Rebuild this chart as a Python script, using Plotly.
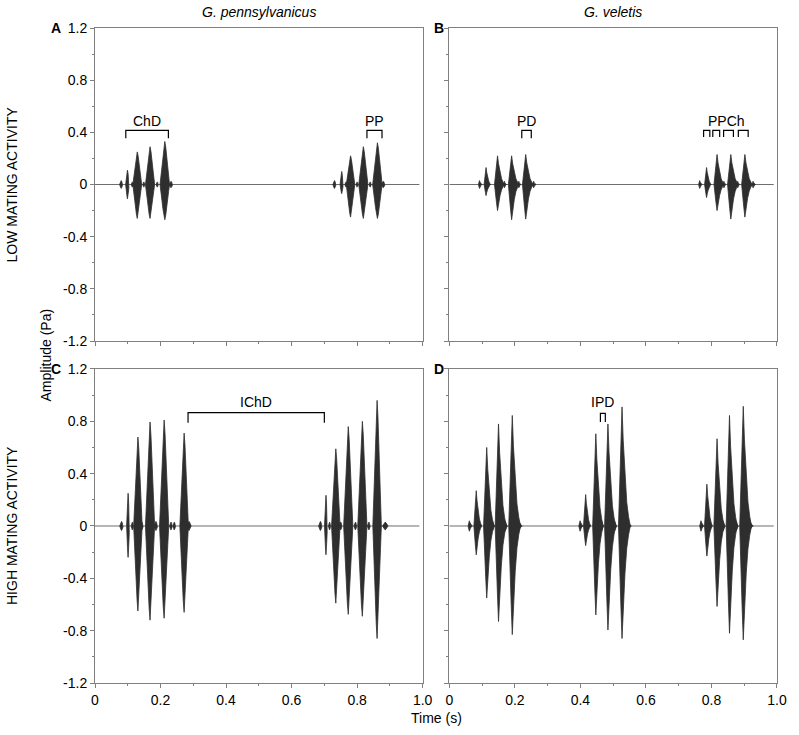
import plotly.graph_objects as go

# ---------------- data ----------------
# Panel A: G. pennsylvanicus, low mating activity
A_time = [0.080, 0.099, 0.114, 0.129, 0.149, 0.168, 0.190, 0.213, 0.232,
          0.731, 0.753, 0.766, 0.780, 0.800, 0.819, 0.840, 0.862, 0.880]
A_pos = [0.03, 0.11, 0.02, 0.25, 0.02, 0.29, 0.02, 0.33, 0.025,
         0.03, 0.10, 0.02, 0.22, 0.02, 0.29, 0.02, 0.32, 0.025]
A_neg = [-0.03, -0.11, -0.02, -0.26, -0.02, -0.26, -0.02, -0.27, -0.025,
         -0.03, -0.07, -0.02, -0.25, -0.02, -0.26, -0.02, -0.26, -0.025]
A_dur = [0.010, 0.011, 0.007, 0.027, 0.007, 0.028, 0.007, 0.029, 0.011,
         0.010, 0.010, 0.007, 0.026, 0.007, 0.028, 0.007, 0.029, 0.011]

# Panel B: G. veletis, low mating activity
B_time = [0.092, 0.112, 0.147, 0.168, 0.190, 0.212, 0.233, 0.257,
          0.764, 0.785, 0.817, 0.838, 0.859, 0.880, 0.902, 0.927]
B_pos = [0.03, 0.13, 0.22, 0.025, 0.22, 0.025, 0.23, 0.025,
         0.03, 0.13, 0.23, 0.025, 0.23, 0.025, 0.23, 0.025]
B_neg = [-0.03, -0.085, -0.20, -0.025, -0.27, -0.025, -0.265, -0.025,
         -0.03, -0.10, -0.20, -0.025, -0.265, -0.025, -0.25, -0.025]
B_dur = [0.011, 0.020, 0.031, 0.009, 0.033, 0.009, 0.033, 0.011,
         0.011, 0.020, 0.031, 0.009, 0.033, 0.009, 0.033, 0.011]

# Panel C: G. pennsylvanicus, high mating activity
C_time = [0.081, 0.101, 0.114, 0.131, 0.143, 0.168, 0.186, 0.211, 0.232, 0.242,
          0.272, 0.287,
          0.688, 0.705, 0.716, 0.735, 0.750, 0.773, 0.795, 0.816, 0.836, 0.861,
          0.886]
C_pos = [0.035, 0.25, 0.03, 0.68, 0.03, 0.795, 0.035, 0.81, 0.03, 0.03,
         0.71, 0.035,
         0.035, 0.235, 0.03, 0.59, 0.03, 0.76, 0.03, 0.80, 0.03, 0.96,
         0.03]
C_neg = [-0.035, -0.24, -0.03, -0.65, -0.03, -0.72, -0.035, -0.705, -0.03,
         -0.03, -0.66, -0.035,
         -0.035, -0.22, -0.03, -0.59, -0.03, -0.675, -0.03, -0.69, -0.03,
         -0.86, -0.03]
C_dur = [0.011, 0.009, 0.007, 0.026, 0.009, 0.028, 0.011, 0.028, 0.009,
         0.009, 0.026, 0.013,
         0.011, 0.009, 0.007, 0.026, 0.009, 0.028, 0.009, 0.028, 0.009, 0.026,
         0.017]

# Panel D: G. veletis, high mating activity
D_time = [0.061, 0.082, 0.114, 0.132, 0.150, 0.171, 0.192, 0.212,
          0.399, 0.416, 0.447, 0.465, 0.484, 0.505, 0.527, 0.545,
          0.768, 0.786, 0.817, 0.836, 0.855, 0.876, 0.897, 0.917]
D_pos = [0.04, 0.27, 0.60, 0.035, 0.78, 0.035, 0.845, 0.04,
         0.04, 0.24, 0.705, 0.035, 0.78, 0.035, 0.91, 0.04,
         0.04, 0.32, 0.667, 0.035, 0.845, 0.035, 0.915, 0.04]
D_neg = [-0.04, -0.22, -0.55, -0.035, -0.73, -0.035, -0.83, -0.04,
         -0.04, -0.15, -0.68, -0.035, -0.795, -0.035, -0.86, -0.04,
         -0.04, -0.23, -0.615, -0.035, -0.82, -0.035, -0.87, -0.04]
D_dur = [0.013, 0.024, 0.032, 0.011, 0.034, 0.011, 0.036, 0.015,
         0.013, 0.022, 0.032, 0.011, 0.034, 0.011, 0.036, 0.015,
         0.013, 0.024, 0.032, 0.011, 0.034, 0.011, 0.036, 0.015]

# brackets: (start, end, top, foot) and labels
A_brk_start = [0.094, 0.830]
A_brk_end = [0.224, 0.876]
A_brk_top = [0.415, 0.415]
A_brk_foot = [0.355, 0.355]
A_lbl = ["ChD", "PP"]
A_lbl_x = [0.159, 0.853]
A_lbl_y = [0.49, 0.49]

B_brk_start = [0.221, 0.776, 0.804, 0.837, 0.882]
B_brk_end = [0.250, 0.795, 0.825, 0.867, 0.912]
B_brk_top = [0.415, 0.415, 0.415, 0.415, 0.415]
B_brk_foot = [0.355, 0.365, 0.365, 0.365, 0.365]
B_lbl = ["PD", "PPCh"]
B_lbl_x = [0.236, 0.847]
B_lbl_y = [0.49, 0.49]

C_brk_start = [0.284]
C_brk_end = [0.700]
C_brk_top = [0.867]
C_brk_foot = [0.79]
C_lbl = ["IChD"]
C_lbl_x = [0.49]
C_lbl_y = [0.95]

D_brk_start = [0.461]
D_brk_end = [0.476]
D_brk_top = [0.86]
D_brk_foot = [0.795]
D_lbl = ["IPD"]
D_lbl_x = [0.468]
D_lbl_y = [0.95]

y_ticks = [-1.2, -0.8, -0.4, 0, 0.4, 0.8, 1.2]
y_ticktext = ["-1.2", "-0.8", "-0.4", "0", "0.4", "0.8", "1.2"]
y_minor = [-1.0, -0.6, -0.2, 0.2, 0.6, 1.0]
x_ticks = [0, 0.2, 0.4, 0.6, 0.8, 1.0]
x_ticktext = ["0", "0.2", "0.4", "0.6", "0.8", "1.0"]
x_minor = [0.1, 0.3, 0.5, 0.7, 0.9]

col_titles = ["G. pennsylvanicus", "G. veletis"]
row_titles = ["LOW MATING ACTIVITY", "HIGH MATING ACTIVITY"]
panel_letters = ["A", "B", "C", "D"]

# ---------------- drawing ----------------
FONT = "Arial, Liberation Sans, sans-serif"
WAVE = "#2e2e2e"
AXC = "#808080"

# envelope styles (symmetric spindle vs. sharp-onset pulse)
PENN_FX = [0, 0.1, 0.2, 0.3, 0.4, 0.5, 0.6, 0.7, 0.8, 0.9, 1.0]
PENN_FE = [0, 0.2, 0.45, 0.68, 0.87, 1.0, 0.87, 0.68, 0.45, 0.2, 0]
VEL_FX = [0, 0.1, 0.2, 0.3, 0.4, 0.55, 0.7, 0.85, 1.0]
VEL_FE = [0, 0.3, 0.7, 1.0, 0.72, 0.42, 0.2, 0.08, 0]
VEL_PEAK = 0.3


def pulses_xy(times, pos, neg, dur, fx, fe, peak):
    xs, ys = [], []
    for t, p, n, d in zip(times, pos, neg, dur):
        x0 = t - peak * d
        up_x = [x0 + f * d for f in fx]
        up_y = [p * e for e in fe]
        lo_x = up_x[::-1]
        lo_y = [n * e for e in fe[::-1]]
        xs += up_x + lo_x + [None]
        ys += up_y + lo_y + [None]
    return xs, ys


def bracket_xy(s, e, top, foot):
    xs, ys = [], []
    for a, b, t, f in zip(s, e, top, foot):
        xs += [a, a, b, b, None]
        ys += [f, t, t, f, None]
    return xs, ys


fig = go.Figure()

GAP_L = 0.4804
GAP_R = 0.5196
ROW1 = [0.5221, 1.0]
ROW2 = [0.0, 0.4794]

panels = [
    ("x", "y", A_time, A_pos, A_neg, A_dur, "penn",
     A_brk_start, A_brk_end, A_brk_top, A_brk_foot, A_lbl, A_lbl_x, A_lbl_y),
    ("x2", "y2", B_time, B_pos, B_neg, B_dur, "vel",
     B_brk_start, B_brk_end, B_brk_top, B_brk_foot, B_lbl, B_lbl_x, B_lbl_y),
    ("x3", "y3", C_time, C_pos, C_neg, C_dur, "penn",
     C_brk_start, C_brk_end, C_brk_top, C_brk_foot, C_lbl, C_lbl_x, C_lbl_y),
    ("x4", "y4", D_time, D_pos, D_neg, D_dur, "vel",
     D_brk_start, D_brk_end, D_brk_top, D_brk_foot, D_lbl, D_lbl_x, D_lbl_y),
]

annotations = []
for (xa, ya, tt, pp, nn, dd, kind, bs, be, bt, bf, lb, lx, ly) in panels:
    # baseline (background noise level)
    fig.add_trace(go.Scatter(x=[0.0, 0.99], y=[0, 0], mode="lines",
                             line=dict(color="#6e6e6e", width=1),
                             xaxis=xa, yaxis=ya, hoverinfo="skip",
                             showlegend=False))
    if kind == "penn":
        px_, py_ = pulses_xy(tt, pp, nn, dd, PENN_FX, PENN_FE, 0.5)
    else:
        px_, py_ = pulses_xy(tt, pp, nn, dd, VEL_FX, VEL_FE, VEL_PEAK)
    fig.add_trace(go.Scatter(x=px_, y=py_, mode="lines", fill="toself",
                             fillcolor=WAVE,
                             line=dict(color=WAVE, width=0.8),
                             xaxis=xa, yaxis=ya, hoverinfo="skip",
                             showlegend=False))
    bx, by = bracket_xy(bs, be, bt, bf)
    fig.add_trace(go.Scatter(x=bx, y=by, mode="lines",
                             line=dict(color="black", width=1.2),
                             xaxis=xa, yaxis=ya, hoverinfo="skip",
                             showlegend=False))
    for text, x, y in zip(lb, lx, ly):
        annotations.append(dict(x=x, y=y, xref=xa, yref=ya, text=text,
                                showarrow=False, xanchor="center",
                                yanchor="middle",
                                font=dict(family=FONT, size=14, color="black")))


def xaxis(domain, anchor, labels):
    return dict(domain=domain, anchor=anchor, range=[0, 1],
                tickvals=x_ticks, ticktext=x_ticktext,
                showticklabels=labels, ticks="outside", ticklen=4,
                tickcolor=AXC, showline=True, linecolor=AXC, linewidth=1,
                mirror=True, showgrid=False, zeroline=False,
                minor=dict(tickvals=x_minor, ticks="outside", ticklen=2,
                           tickcolor=AXC),
                tickfont=dict(family=FONT, size=14, color="black"))


def yaxis(domain, anchor, labels):
    return dict(domain=domain, anchor=anchor, range=[-1.2, 1.2],
                tickvals=y_ticks, ticktext=y_ticktext,
                showticklabels=labels, ticks="outside", ticklen=4,
                tickcolor=AXC, showline=True, linecolor=AXC, linewidth=1,
                mirror=True, showgrid=False, zeroline=False,
                minor=dict(tickvals=y_minor, ticks="outside", ticklen=2,
                           tickcolor=AXC),
                tickfont=dict(family=FONT, size=14, color="black"))


fig.update_layout(
    xaxis=xaxis([0, GAP_L], "y", False),
    yaxis=yaxis(ROW1, "x", True),
    xaxis2=xaxis([GAP_R, 1], "y2", False),
    yaxis2=yaxis(ROW1, "x2", False),
    xaxis3=xaxis([0, GAP_L], "y3", True),
    yaxis3=yaxis(ROW2, "x3", True),
    xaxis4=xaxis([GAP_R, 1], "y4", True),
    yaxis4=yaxis(ROW2, "x4", False),
)

# column titles
for ttl, cx in zip(col_titles, [GAP_L / 2, (GAP_R + 1) / 2]):
    annotations.append(dict(x=cx, y=1.0, xref="paper", yref="paper",
                            yshift=16, text="<i>" + ttl + "</i>",
                            showarrow=False, xanchor="center",
                            yanchor="middle",
                            font=dict(family=FONT, size=14, color="black")))
# panel letters
letter_pos = [(0.0, ROW1[1], -39), (GAP_R, ROW1[1], -10),
              (0.0, ROW2[1], -39), (GAP_R, ROW2[1], -10)]
for letter, (lx_, ly_, xs_) in zip(panel_letters, letter_pos):
    annotations.append(dict(x=lx_, y=ly_, xref="paper", yref="paper",
                            xshift=xs_, text="<b>" + letter + "</b>",
                            showarrow=False, xanchor="center",
                            yanchor="middle",
                            font=dict(family=FONT, size=14, color="black")))
# row titles
for ttl, ry in zip(row_titles, [sum(ROW1) / 2, sum(ROW2) / 2]):
    annotations.append(dict(x=0, y=ry, xref="paper", yref="paper",
                            xshift=-83, text=ttl, textangle=-90,
                            showarrow=False, xanchor="center",
                            yanchor="middle",
                            font=dict(family=FONT, size=14, color="black")))
# shared axis titles
annotations.append(dict(x=0, y=0.5, xref="paper", yref="paper",
                        xshift=-50, text="Amplitude (Pa)", textangle=-90,
                        showarrow=False, xanchor="center", yanchor="middle",
                        font=dict(family=FONT, size=14, color="black")))
annotations.append(dict(x=0.5, y=0, xref="paper", yref="paper",
                        yshift=-35, text="Time (s)",
                        showarrow=False, xanchor="center", yanchor="middle",
                        font=dict(family=FONT, size=14, color="black")))

fig.update_layout(
    width=799, height=735,
    margin=dict(l=95, r=15, t=28, b=52),
    paper_bgcolor="white", plot_bgcolor="white",
    annotations=annotations,
    showlegend=False,
)

# remove the default 8 px page margin so the figure fills the window exactly
fig.write_html("out.html",
               config={"displayModeBar": False},
               post_script="document.body.style.margin='0';"
                           "document.body.style.overflow='hidden';")
